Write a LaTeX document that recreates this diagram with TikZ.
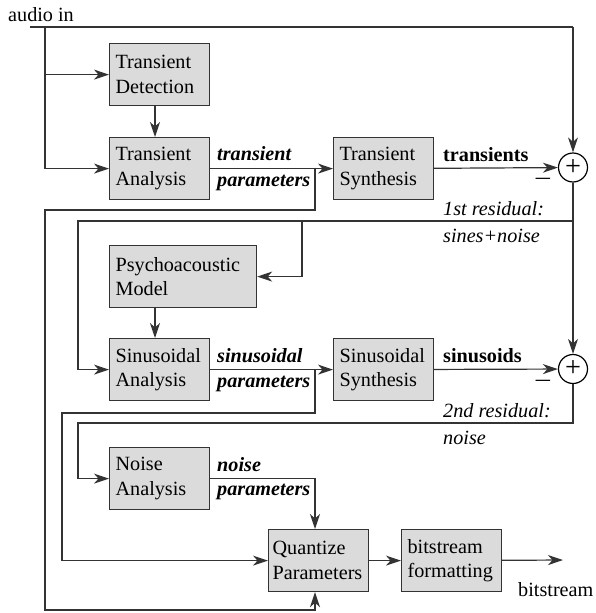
\documentclass[tikz,border=0pt]{standalone}
\usepackage{fontspec}
\setmainfont{Liberation Serif}
\usetikzlibrary{arrows.meta}
\newcommand\mainfs{\fontsize{20.2}{24.5}\selectfont}
\begin{document}
\begin{tikzpicture}[x=1pt,y=-1pt,
  every node/.style={font=\mainfs},
  blk/.style={draw=black!80, line width=1.2pt, fill=black!14, anchor=north west,
    text width=88pt, align=left, inner xsep=6pt, inner ysep=0pt, minimum height=62pt},
  wire/.style={draw=black!80, line width=1.2pt},
  arr/.style={wire, -{Stealth[length=15pt,width=10pt,inset=4.5pt]}},
  sumnode/.style={circle, draw=black, line width=1.2pt, minimum size=29pt, inner sep=0pt, fill=white},
  lbl/.style={anchor=base west, inner sep=0pt},
  plbl/.style={lbl, font=\mainfs\bfseries\itshape},
  ilbl/.style={lbl, font=\mainfs\itshape},
  blbl/.style={lbl, font=\mainfs\bfseries},
  signlbl/.style={inner sep=0pt},
]
\useasboundingbox (0,0) rectangle (596,613);

% blocks
\node[blk] (td) at (109,43) {Transient\\Detection};
\node[blk] (ta) at (109,137) {Transient\\Analysis};
\node[blk] (ts) at (333,137) {Transient\\Synthesis};
\node[blk, text width=135pt] (pm) at (109,245) {Psychoacoustic\\Model};
\node[blk] (sa) at (109,338) {Sinusoidal\\Analysis};
\node[blk] (ss) at (333,338) {Sinusoidal\\Synthesis};
\node[blk] (na) at (109,447) {Noise\\Analysis};
\node[blk, text width=92pt, inner xsep=4pt] (qp) at (268,529) {Quantize\\Parameters};
\node[blk] (bf) at (401,529) {bitstream\\formatting};

\node[sumnode] (c1) at (573,167.5) {\scalebox{1.4}{+}};
\node[sumnode] (c2) at (573,369) {\scalebox{1.4}{+}};

% coordinates
\coordinate (ain) at (30,27);
\coordinate (j1) at (45,27);
\coordinate (tr) at (573,27);
\coordinate (vx) at (155,0);
\coordinate (tp) at (315,167.5);
\coordinate (tpb) at (315,210);
\coordinate (l1) at (45,210);
\coordinate (l1b) at (45,610);
\coordinate (qb) at (315,610);
\coordinate (r1) at (573,221);
\coordinate (r1l) at (78,221);
\coordinate (r1p) at (302,221);
\coordinate (sp) at (315,369);
\coordinate (spb) at (315,413);
\coordinate (l2) at (62,413);
\coordinate (r2l) at (78,423);
\coordinate (out) at (563,560);

% texts
\node[lbl] (ainl) at (8,21) {audio in};
\node[plbl] (tp1) at (217,160) {transient};
\node[plbl] (tp2) at (217,186) {parameters};
\node[plbl] (sp1) at (217,362) {sinusoidal};
\node[plbl] (sp2) at (217,387) {parameters};
\node[plbl] (np1) at (217,471) {noise};
\node[plbl] (np2) at (217,495) {parameters};
\node[blbl] (trl) at (443,161) {transients};
\node[blbl] (sil) at (443,362) {sinusoids};
\node[ilbl] (r11) at (443,215) {1st residual:};
\node[ilbl] (r12) at (443,242) {sines+noise};
\node[ilbl] (r21) at (443,417) {2nd residual:};
\node[ilbl] (r22) at (443,444) {noise};
\node[lbl] (bsl) at (518,596) {bitstream};
\node[signlbl] (m1) at (543,181) {\scalebox{1.4}[1.2]{--}};
\node[signlbl] (m2) at (543,383) {\scalebox{1.4}[1.2]{--}};

% wires
\draw[wire] (ain) -- (tr);
\draw[arr] (tr) -- (c1.north);
\draw[arr] (j1) |- (ta.west);
\draw[arr] (td.west -| j1) -- (td.west);
\draw[arr] (td.south -| vx) -- (ta.north -| vx);
\draw[arr] (ta) -- (ts);
\draw[arr] (tp) -- (tpb) -- (l1) -- (l1b) -- (qb) -- (qp.south -| qb);
\draw[arr] (ts) -- (c1);
\draw[arr] (c1.south) -- (c2.north);
\draw[arr] (r1) -- (r1l) |- (sa.west);
\draw[arr] (r1p) |- (pm.east);
\draw[arr] (pm.south -| vx) -- (sa.north -| vx);
\draw[arr] (sa) -- (ss);
\draw[arr] (sp) -- (spb) -- (l2) |- (qp.west);
\draw[arr] (ss) -- (c2);
\draw[arr] (c2.south) |- (r2l) |- (na.west);
\draw[arr] (na.east) -| (qp.north -| qb);
\draw[arr] (qp) -- (bf);
\draw[arr] (bf) -- (out);
\end{tikzpicture}
\end{document}
